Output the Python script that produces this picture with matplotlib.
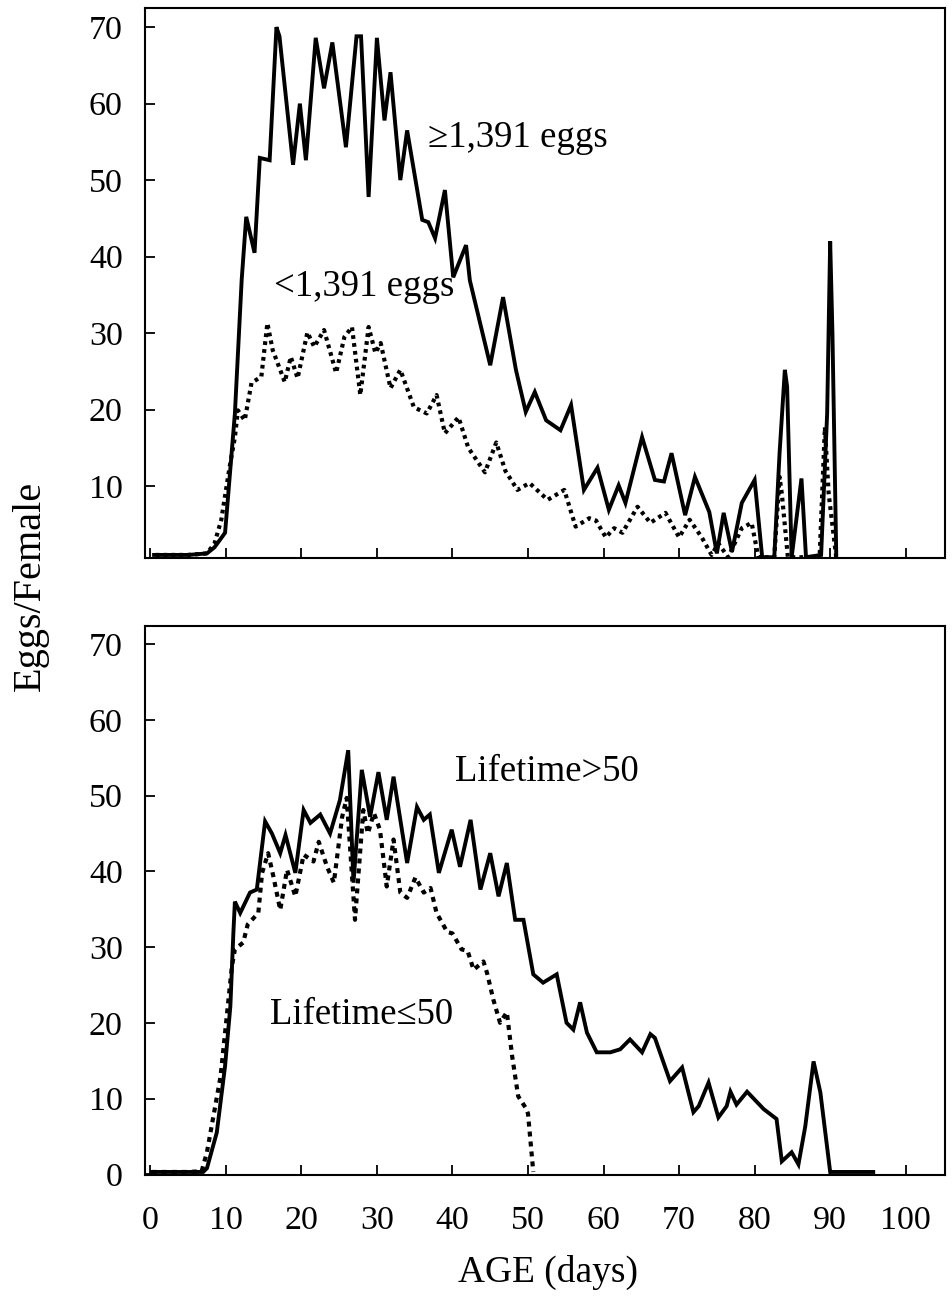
import matplotlib
matplotlib.use("Agg")
import matplotlib.pyplot as plt

plt.rcParams['font.family'] = ['Liberation Serif', 'DejaVu Serif']

# ---------------- data ----------------
# Top panel: >=1,391 eggs (solid)
hi_age = [0.5, 3, 5, 7.5, 8.5, 9.9, 11.2, 12.1, 12.7, 13.8, 14.5, 15.8, 16.7, 17.1, 18.9, 19.8,
          20.6, 21.9, 23.0, 24.1, 25.9, 27.3, 27.9, 28.9, 30.0, 31.0, 31.8, 33.1, 34.0, 36.0,
          36.8, 37.7, 39.0, 40.1, 41.8, 42.3, 45.0, 46.7, 48.4, 49.7, 50.9, 52.4, 54.3, 55.7,
          57.4, 59.2, 60.7, 62.0, 62.9, 65.1, 66.8, 68.0, 69.0, 70.8, 72.1, 74.0, 75.0, 75.9,
          77.0, 78.3, 80.0, 81.0, 82.6, 83.3, 84.0, 84.3, 84.9, 86.2, 86.8, 88.8, 89.6, 90.0,
          90.3, 90.8]
hi_val = [1.0, 1.0, 1.0, 1.2, 2.0, 3.9, 19.5, 37.0, 45.2, 40.5, 52.9, 52.6, 70.0, 68.8, 52.0, 60.0,
          52.6, 68.6, 62.0, 68.0, 54.3, 68.8, 68.8, 47.8, 68.6, 57.8, 64.1, 50.0, 56.5, 44.8,
          44.5, 42.4, 48.7, 37.3, 41.5, 36.9, 25.8, 34.7, 25.2, 19.7, 22.3, 18.6, 17.3, 20.6,
          9.5, 12.4, 6.9, 10.1, 7.8, 16.4, 10.8, 10.6, 14.3, 6.2, 11.2, 6.6, 1.2, 6.5,
          1.4, 7.8, 10.8, 0.7, 0.7, 14.3, 25.2, 23.0, 0.7, 11.0, 0.7, 1.0, 19.5, 42.0,
          30.0, 1.2]

# Top panel: <1,391 eggs (dotted)
lo_age = [0.7, 3, 5, 7.5, 8.5, 9.4, 10.5, 11.2, 11.6, 12.5, 13.4, 14.7, 15.5, 16.2, 17.8, 18.6,
          19.5, 20.8, 21.7, 23.0, 24.6, 25.7, 26.7, 27.8, 28.9, 29.8, 30.5, 31.8, 33.1, 34.9,
          36.6, 37.9, 39.0, 40.8, 42.1, 44.3, 45.8, 47.0, 48.6, 50.2, 52.6, 54.8, 56.3, 58.1,
          59.0, 60.3, 61.4, 62.5, 64.5, 66.2, 68.2, 70.0, 71.4, 73.0, 74.3, 75.2, 76.5, 78.3,
          79.6, 80.5, 82.6, 83.3, 83.6, 84.4, 88.6, 89.3, 89.8, 90.8]
lo_val = [1.0, 1.0, 1.0, 1.2, 2.5, 5.6, 12.5, 16.4, 19.9, 18.6, 23.5, 24.3, 31.3, 27.8, 23.6, 26.9,
          24.1, 30.1, 28.2, 30.4, 24.8, 29.5, 30.8, 21.9, 30.8, 27.4, 28.7, 22.8, 25.2, 20.3,
          19.5, 21.9, 16.9, 19.0, 15.0, 11.8, 15.7, 12.0, 9.5, 10.4, 8.2, 9.5, 4.7, 5.8,
          5.5, 3.3, 4.5, 3.9, 7.3, 5.2, 6.5, 3.3, 5.6, 3.3, 1.0, 2.5, 0.7, 4.5,
          5.2, 0.7, 0.7, 11.2, 9.0, 0.7, 0.7, 17.7, 9.0, 0.7]

# Bottom panel: Lifetime>50 (solid)
long_age = [0.2, 3, 5, 7.0, 7.5, 8.8, 9.9, 10.6, 11.0, 11.2, 11.9, 13.2, 14.1, 15.2, 16.1, 17.2,
            17.9, 19.2, 20.3, 21.2, 22.5, 23.8, 25.1, 26.2, 26.9, 28.0, 29.1, 30.2, 31.3, 32.2,
            34.0, 35.3, 36.2, 37.0, 38.2, 39.9, 41.0, 42.4, 43.7, 45.0, 46.1, 47.2, 48.3, 49.4,
            50.7, 52.0, 53.8, 55.1, 56.0, 56.9, 57.8, 59.1, 60.9, 62.2, 63.5, 65.1, 66.2, 66.8,
            68.8, 70.4, 71.9, 72.6, 73.9, 75.2, 76.3, 76.8, 77.6, 79.0, 81.2, 82.9, 83.6, 84.9,
            85.8, 86.7, 87.8, 88.7, 90.0, 95.7]
long_val = [0.3, 0.3, 0.3, 0.3, 0.8, 5.5, 14.3, 22.2, 31.9, 36.0, 34.5, 37.2, 37.6, 46.6, 45.0, 42.4,
            44.8, 39.8, 48.1, 46.4, 47.5, 45.0, 49.4, 56.0, 38.5, 53.4, 47.2, 53.1, 46.8, 52.5,
            41.1, 48.5, 46.8, 47.5, 39.8, 45.5, 40.6, 46.8, 37.6, 42.4, 36.7, 41.1, 33.6, 33.6,
            26.4, 25.3, 26.4, 20.0, 19.1, 22.7, 18.7, 16.1, 16.1, 16.5, 17.8, 16.1, 18.5, 18.0,
            12.3, 14.1, 8.2, 9.0, 12.1, 7.5, 9.0, 10.9, 9.2, 10.9, 8.6, 7.3, 1.7, 2.9,
            1.3, 6.3, 14.9, 10.8, 0.3, 0.3]

# Bottom panel: Lifetime<=50 (dotted)
short_age = [0.2, 3, 5, 6.8, 7.5, 9.3, 10.8, 11.2, 12.3, 12.9, 14.3, 14.8, 15.6, 16.3, 17.2, 18.1,
             19.2, 20.3, 21.6, 22.3, 23.4, 24.3, 25.4, 26.0, 27.1, 28.2, 28.8, 29.6, 30.4, 31.3,
             32.2, 33.1, 34.0, 35.1, 36.2, 37.1, 37.9, 39.3, 40.0, 41.2, 42.0, 42.8, 44.1, 44.6,
             45.4, 46.3, 47.2, 47.9, 48.7, 49.8, 50.0, 50.7]
short_val = [0.3, 0.3, 0.3, 0.4, 2.9, 12.9, 27.4, 29.7, 30.6, 33.0, 34.5, 39.8, 42.4, 39.3, 34.9, 40.2,
             36.7, 42.2, 41.3, 43.9, 40.6, 38.5, 47.2, 49.7, 33.6, 48.1, 45.0, 47.7, 45.5, 38.0,
             44.2, 37.2, 36.5, 39.2, 37.2, 37.8, 34.5, 32.0, 31.8, 29.7, 29.5, 27.0, 28.1, 26.5,
             23.1, 20.0, 21.4, 15.6, 10.3, 8.6, 8.0, 0.3]

x_ticks = [0, 10, 20, 30, 40, 50, 60, 70, 80, 90, 100]
y_ticks_top = [10, 20, 30, 40, 50, 60, 70]
y_ticks_bottom = [0, 10, 20, 30, 40, 50, 60, 70]

# ---------------- figure ----------------
W, H = 953, 1301
fig = plt.figure(figsize=(W / 100, H / 100), dpi=100)

def px_axes(x0, y0, x1, y1):
    return fig.add_axes([x0 / W, 1 - y1 / H, (x1 - x0) / W, (y1 - y0) / H])

ax1 = px_axes(145, 8, 945, 558)
ax2 = px_axes(145, 626, 945, 1175)

solid_kw = dict(color='black', lw=2.8, solid_joinstyle='miter')
dot_kw = dict(color='black', lw=3.0, linestyle=(0, (0.9, 1.0)), dash_capstyle='butt')

ax1.plot(hi_age, hi_val, **solid_kw)
ax1.plot(lo_age, lo_val, **dot_kw)
ax2.plot(long_age, long_val, **solid_kw)
ax2.plot(short_age, short_val, **dict(dot_kw, linestyle=(0, (1.2, 1.2))))

for ax in (ax1, ax2):
    ax.set_xlim(-0.7, 105.2)
    ax.set_xticks(x_ticks)
    ax.tick_params(direction='in', length=7, width=1.3, labelsize=24.5, pad=16,
                   top=False, right=False)
    for s in ax.spines.values():
        s.set_linewidth(1.5)

ax1.set_ylim(0.6, 72.5)
ax1.set_yticks(y_ticks_top)
ax1.tick_params(axis='x', labelbottom=False)
ax2.set_ylim(-0.1, 72.4)
ax2.set_yticks(y_ticks_bottom)
ax2.tick_params(axis='x', pad=22)

ax1.text(36.8, 55.6, '≥1,391 eggs', fontsize=26.5, va='center', ha='left')
ax1.text(16.4, 36.0, '<1,391 eggs', fontsize=26.5, va='center', ha='left')
ax2.text(40.4, 53.1, 'Lifetime>50', fontsize=26.5, va='center', ha='left')
ax2.text(15.9, 21.1, 'Lifetime≤50', fontsize=26.5, va='center', ha='left')

fig.text(0.032, 0.55, 'Eggs/Female', rotation=90, fontsize=29, va='center', ha='center')
fig.text(548 / W, 1 - 1272 / H, 'AGE (days)', fontsize=27, va='center', ha='center')

fig.savefig('out.png', dpi=100)
